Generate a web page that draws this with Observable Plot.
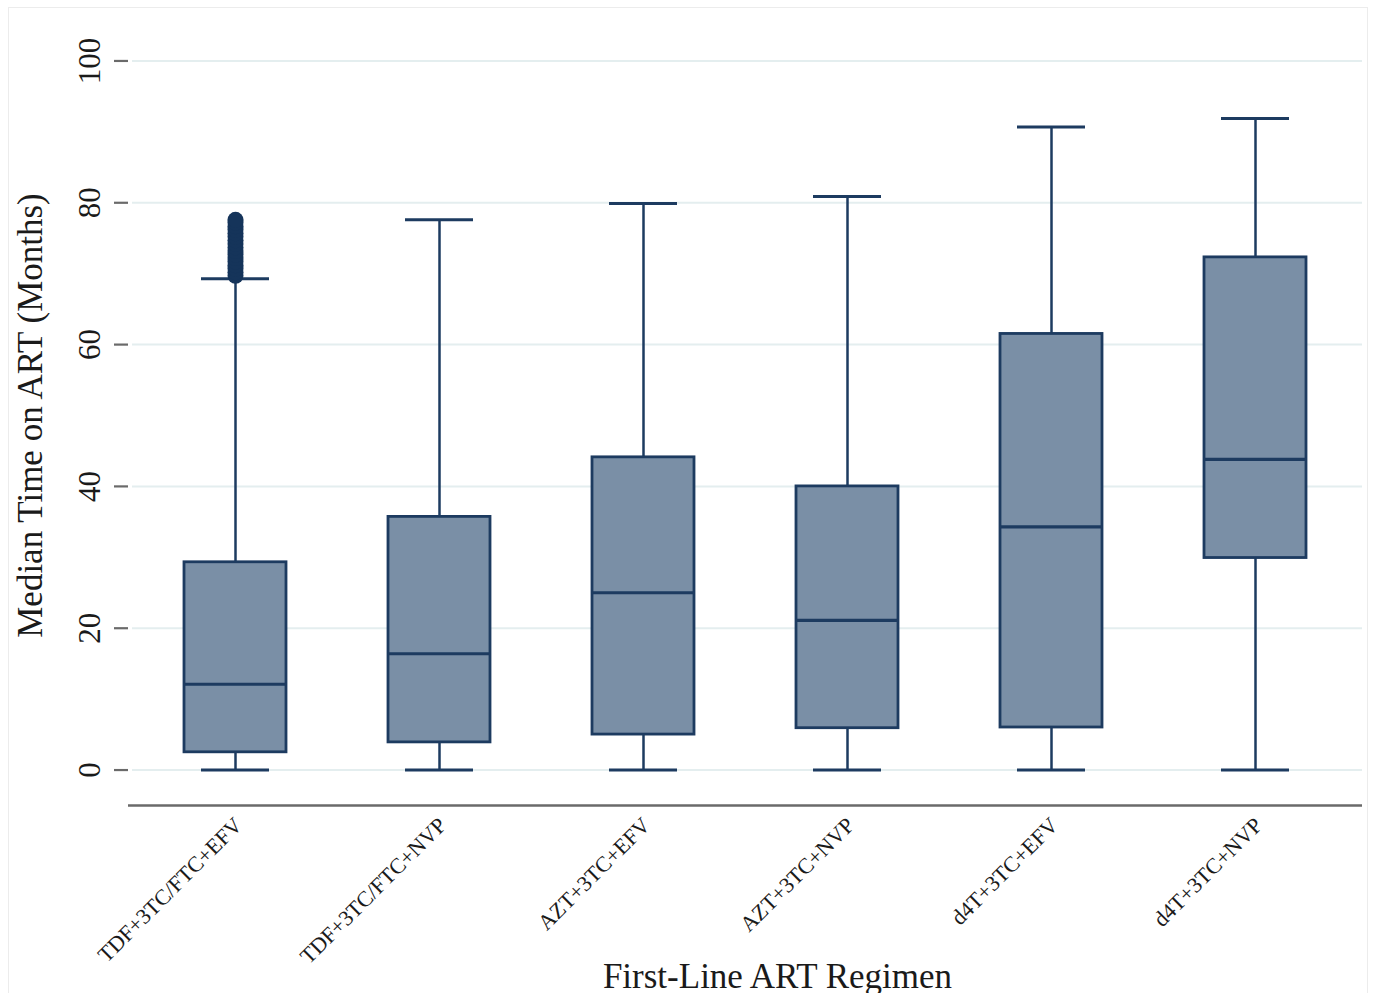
<!DOCTYPE html>
<html>
<head>
<meta charset="utf-8">
<script src="https://cdn.jsdelivr.net/npm/d3@7"></script>
<script src="https://cdn.jsdelivr.net/npm/@observablehq/plot@0.6"></script>
<style>
  html, body { margin: 0; padding: 0; background: #fff; }
  #wrap { position: relative; width: 1375px; height: 993px; overflow: hidden; }
  #border { position: absolute; left: 8px; top: 7px; width: 1360px; height: 990px; border: 1px solid #ececec; box-sizing: border-box; pointer-events: none; }
</style>
</head>
<body>
<div id="wrap"><div id="border"></div></div>
<script>
// Data
const categories = ["TDF+3TC/FTC+EFV", "TDF+3TC/FTC+NVP", "AZT+3TC+EFV", "AZT+3TC+NVP", "d4T+3TC+EFV", "d4T+3TC+NVP"];
const lowerWhisker = [0, 0, 0, 0, 0, 0];
const q1 = [2.5, 3.9, 5.0, 5.9, 6.0, 29.9];
const median = [12.1, 16.4, 25.0, 21.1, 34.3, 43.8];
const q3 = [29.3, 35.7, 44.1, 40.0, 61.5, 72.3];
const upperWhisker = [69.3, 77.6, 79.9, 80.9, 90.7, 91.9];
// outliers above the upper whisker of the first regimen (dense column)
const outlierCategory = "TDF+3TC/FTC+EFV";
const outlierValues = [69.7, 70.2, 70.7, 71.2, 71.7, 72.2, 72.7, 73.2, 73.7, 74.2, 74.7, 75.2, 75.7, 76.2, 76.7, 77.2, 77.6];
const yTicks = [0, 20, 40, 60, 80, 100];
const yTitle = "Median Time on ART (Months)";
const xTitle = "First-Line ART Regimen";

const boxes = categories.map((c, i) => ({
  cat: c, lo: lowerWhisker[i], q1: q1[i], med: median[i], q3: q3[i], hi: upperWhisker[i]
}));
const outliers = outlierValues.map(v => ({cat: outlierCategory, v}));

const fillC = "#7a8fa6";
const strokeC = "#1d3b60";
const axisC = "#6a6a6a";
const gridC = "#e4eeef";
const textC = "#1a1a1a";
const font = "'Liberation Serif', 'Times New Roman', serif";

const chart = Plot.plot({
  width: 1375,
  height: 993,
  marginTop: 25,
  marginRight: 13,
  marginBottom: 188,
  marginLeft: 128,
  style: {fontFamily: font, background: "transparent"},
  x: {type: "band", domain: categories, paddingInner: 0.5, paddingOuter: 0.2745, axis: null},
  y: {domain: [-5, 105], axis: null},
  marks: [
    Plot.ruleY(yTicks, {stroke: gridC, strokeWidth: 2, insetLeft: 4}),
    Plot.axisY({ticks: yTicks, tickSize: 14, tickFormat: () => "", line: true, stroke: axisC, strokeWidth: 2.2, label: null}),
    Plot.ruleY([-5], {stroke: axisC, strokeWidth: 2.5}),
    // whiskers
    Plot.ruleX(boxes, {x: "cat", y1: "q3", y2: "hi", stroke: strokeC, strokeWidth: 2.5}),
    Plot.ruleX(boxes, {x: "cat", y1: "lo", y2: "q1", stroke: strokeC, strokeWidth: 2.5}),
    Plot.tickY(boxes, {x: "cat", y: "hi", stroke: strokeC, strokeWidth: 3, insetLeft: 17, insetRight: 17}),
    Plot.tickY(boxes, {x: "cat", y: "lo", stroke: strokeC, strokeWidth: 3, insetLeft: 17, insetRight: 17}),
    // boxes
    Plot.barY(boxes, {x: "cat", y1: "q1", y2: "q3", fill: fillC, stroke: strokeC, strokeWidth: 2.8}),
    Plot.tickY(boxes, {x: "cat", y: "med", stroke: strokeC, strokeWidth: 3.2}),
    // outliers
    Plot.dot(outliers, {x: "cat", y: "v", r: 8, fill: "#15345a", stroke: null}),
    // y tick labels
    Plot.text(yTicks, {y: d => d, text: d => String(d), frameAnchor: "left", dx: -38, rotate: -90, textAnchor: "middle", lineAnchor: "middle", fontSize: 31, fill: textC}),
    // y title
    Plot.text([yTitle], {frameAnchor: "left", dx: -98, dy: 0, rotate: -90, textAnchor: "middle", lineAnchor: "middle", fontSize: 35, fill: textC}),
    // x tick labels
    Plot.text(categories, {x: d => d, text: d => d, frameAnchor: "bottom", dx: -3, dy: 10, rotate: -45, textAnchor: "end", lineAnchor: "top", fontSize: 22, fill: textC}),
    // x title
    Plot.text([xTitle], {frameAnchor: "bottom", dx: 32, dy: 171, textAnchor: "middle", lineAnchor: "middle", fontSize: 35, fill: textC})
  ]
});
document.getElementById("wrap").prepend(chart);
</script>
</body>
</html>
